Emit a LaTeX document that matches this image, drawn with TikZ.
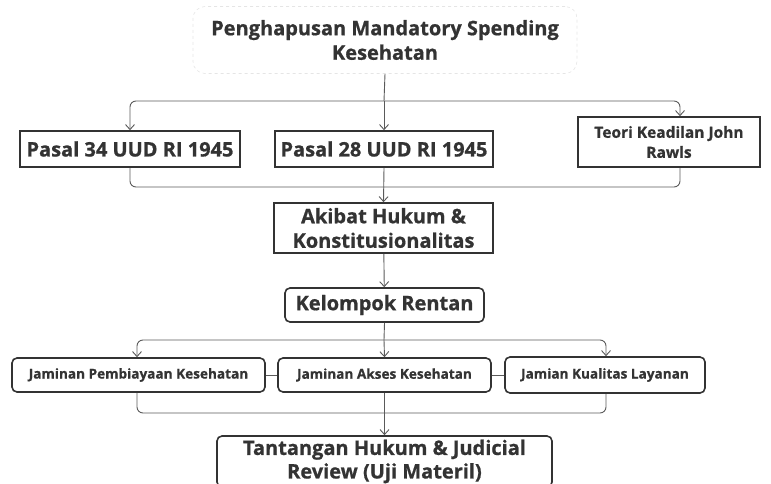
\documentclass[tikz,border=0pt]{standalone}
\usepackage{fontspec}
\setmainfont{Open Sans}[BoldFeatures={FakeBold=0.8}]
\usetikzlibrary{arrows.meta}
\definecolor{ink}{HTML}{333333}
\definecolor{wire}{HTML}{5A5A5A}
\begin{document}
\begin{tikzpicture}[x=1pt,y=-1pt,
	box/.style={draw=ink, line width=1.6pt, text=ink, font=\bfseries, align=center, inner sep=0pt},
	rbox/.style={box, rounded corners=5pt},
	big/.style={font=\fontsize{20}{24.5}\selectfont\bfseries},
	small/.style={font=\fontsize{13.6}{22}\selectfont\bfseries},
	link/.style={draw=wire, line width=0.9pt, rounded corners=6pt, -{Straight Barb[length=5pt,width=9pt]}},
	plain/.style={draw=wire, line width=0.9pt, rounded corners=6pt}]
\useasboundingbox (0,0) rectangle (771,484);
\node[rbox, big, draw=gray!20, line width=0.6pt, dashed, rounded corners=12pt, minimum width=384pt, minimum height=67pt] (top) at (385,40) {Penghapusan Mandatory Spending\\Kesehatan};
\node[box, big, minimum width=220pt, minimum height=36pt] (p34) at (130,149) {Pasal 34 UUD RI 1945};
\node[box, big, minimum width=218pt, minimum height=36pt] (p28) at (384,149) {Pasal 28 UUD RI 1945};
\node[box, font=\fontsize{15.5}{20}\selectfont\bfseries, minimum width=182pt, minimum height=50pt] (teori) at (669,142) {Teori Keadilan John\\Rawls};
\node[box, big, minimum width=219pt, minimum height=50pt] (akibat) at (383.5,228) {Akibat Hukum \&\\Konstitusionalitas};
\node[rbox, big, minimum width=199pt, minimum height=34pt] (rentan) at (384.5,305) {Kelompok Rentan};
\node[rbox, small, minimum width=253pt, minimum height=34pt] (biaya) at (138.5,375) {Jaminan Pembiayaan Kesehatan};
\node[rbox, small, minimum width=213pt, minimum height=34pt] (akses) at (384.5,375) {Jaminan Akses Kesehatan};
\node[rbox, small, minimum width=200pt, minimum height=36pt] (mutu) at (605,375) {Jamian Kualitas Layanan};
\node[rbox, font=\fontsize{20}{23.5}\selectfont\bfseries, minimum width=335pt, minimum height=51pt] (uji) at (384.5,461.5) {Tantangan Hukum \& Judicial\\Review (Uji Materil)};
% cabang atas
\coordinate (pecah) at (384,101);
\coordinate (gabung) at (384,187);
\draw[plain] (top.south) -- (pecah);
\draw[link] (pecah) -- (p28.north);
\draw[link] (pecah) -| (p34.north);
\draw[link] (pecah) -| ([xshift=11pt]teori.north);
\draw[plain] (p34.south) |- (gabung);
\draw[plain] ([xshift=11pt]teori.south) |- (gabung);
\draw[link] (p28.south) -- (akibat.north);
\draw[link] (akibat) -- (rentan);
% cabang bawah
\coordinate (pecah2) at (384,340);
\coordinate (gabung2) at (384,413);
\draw[plain] (rentan.south) -- (pecah2);
\draw[link] (pecah2) -- (akses.north);
\draw[link] (pecah2) -| ([xshift=-1.5pt]biaya.north);
\draw[link] (pecah2) -| ([xshift=1pt]mutu.north);
\draw[plain] ([xshift=-1.5pt]biaya.south) |- (gabung2);
\draw[plain] ([xshift=1pt]mutu.south) |- (gabung2);
\draw[link] (akses.south) -- (uji.north);
\draw[plain] (biaya) -- (akses);
\draw[plain] (akses) -- (mutu);
\end{tikzpicture}
\end{document}
